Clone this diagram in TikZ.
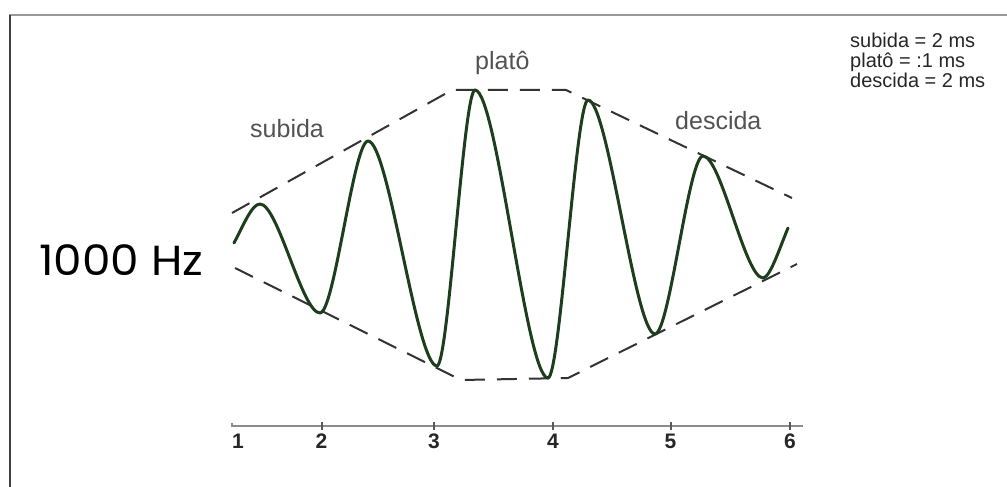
\documentclass[tikz,border=0pt]{standalone}
\usepackage{fontspec}
\setmainfont{Liberation Sans}
\newfontfamily\hzfont[FakeStretch=1.08]{Poppins}
\begin{document}
\begin{tikzpicture}[x=1pt,y=-1pt,
  frameline/.style={line width=2pt},
  envline/.style={line width=2pt, draw=black!80, dash pattern=on 20pt off 12pt},
  wave/.style={line width=3pt, draw={rgb,255:red,28;green,62;blue,28}, line join=round, line cap=round},
  axisline/.style={line width=2pt, draw=black!45},
  tickmark/.style={line width=2pt, draw=black!65},
  ticklabel/.style={font=\bfseries\fontsize{21}{21}\selectfont, text=black!85, anchor=base, inner sep=0pt},
  phaselabel/.style={font=\fontsize{25}{25}\selectfont, text=black!68, anchor=base west, inner sep=0pt},
  notelabel/.style={font=\fontsize{20}{20}\selectfont, text=black!85, anchor=base west, inner sep=0pt}]
\useasboundingbox (0,0) rectangle (1007,487);
% frame
\draw[frameline, draw=black!40] (9,15.5) -- (1007,15.5);
\draw[frameline, draw=black!75] (9.5,15) -- (9.5,487);
% envelope
\coordinate (u1) at (232,213);
\coordinate (u2) at (452,90);
\coordinate (u3) at (566,90);
\coordinate (u4) at (792,198);
\coordinate (l1) at (235,268);
\coordinate (l2) at (461,380);
\coordinate (l3) at (568,378);
\coordinate (l4) at (797,264);
\draw[envline] (u1) -- (u2) -- (u3) -- (u4);
\draw[envline] (l1) -- (l2) -- (l3) -- (l4);
% waveform (extrema)
\coordinate (w0) at (234,243);
\coordinate (w1) at (260,204);
\coordinate (w2) at (320,313);
\coordinate (w3) at (368,141);
\coordinate (w4) at (437,366);
\coordinate (w5) at (475,90);
\coordinate (w6) at (548,378);
\coordinate (w7) at (588,100);
\coordinate (w8) at (655,334);
\coordinate (w9) at (703,156);
\coordinate (w10) at (763,278);
\coordinate (w11) at (788,228);
\draw[wave] (w0) .. controls +(10,-19) and +(-8,0) .. (w1)
  .. controls +(18,0) and +(-18,0) .. (w2)
  .. controls +(14.4,0) and +(-14.4,0) .. (w3)
  .. controls +(20.7,0) and +(-20.7,0) .. (w4)
  .. controls +(11.4,0) and +(-11.4,0) .. (w5)
  .. controls +(21.9,0) and +(-21.9,0) .. (w6)
  .. controls +(12,0) and +(-12,0) .. (w7)
  .. controls +(20.1,0) and +(-20.1,0) .. (w8)
  .. controls +(14.4,0) and +(-14.4,0) .. (w9)
  .. controls +(18,0) and +(-18,0) .. (w10)
  .. controls +(7,0) and +(-8,19) .. (w11);
% axis
\coordinate (a0) at (232,426);
\coordinate (a1) at (803,426);
\draw[axisline] (232,423) -- (a0) -- (a1);
\foreach \n/\x in {2/321.5,3/434,4/553,5/670.5,6/790}{
  \draw[tickmark] (\x,422) -- (\x,430);
}
\node[ticklabel] (t1) at (238,448) {1};
\node[ticklabel] (t2) at (321.5,448) {2};
\node[ticklabel] (t3) at (434,448) {3};
\node[ticklabel] (t4) at (553,448) {4};
\node[ticklabel] (t5) at (670.5,448) {5};
\node[ticklabel] (t6) at (790,448) {6};
% labels
\node[phaselabel] (sub) at (250,137) {subida};
\node[phaselabel] (pla) at (475,70) {platô};
\node[phaselabel] (des) at (675,129) {descida};
\node[font=\hzfont\fontsize{42}{42}\selectfont, anchor=base west, inner sep=0pt] (hz) at (39,275) {1000 Hz};
\node[notelabel] (n1) at (850,48) {subida = 2 ms};
\node[notelabel] (n2) at (850,68) {platô = :1 ms};
\node[notelabel] (n3) at (850,88) {descida = 2 ms};
\end{tikzpicture}
\end{document}
